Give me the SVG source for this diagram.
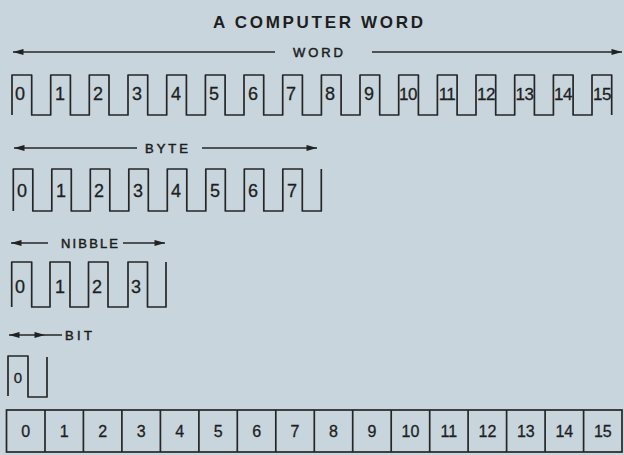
<svg xmlns="http://www.w3.org/2000/svg" width="624" height="455" viewBox="0 0 624 455">
<defs>
<marker id="ah" viewBox="0 0 12 8" refX="12" refY="4" markerWidth="12" markerHeight="7" markerUnits="userSpaceOnUse" orient="auto">
<path d="M0,0.5 L12,4 L0,7.5 Z" fill="#222"/>
</marker>
<style>
.bg{fill:#c8d5dd}
.w{fill:none;stroke:#262626;stroke-width:1.7;stroke-linejoin:round}
.ar{fill:none;stroke:#262626;stroke-width:1.5;marker-end:url(#ah)}
.ln{fill:none;stroke:#262626;stroke-width:1.5}
.t{font-family:"Liberation Sans",Arial,sans-serif;fill:#1e1e1e}
.title{font-size:17px;font-weight:bold}
.lab{font-size:13px;stroke:#1e1e1e;stroke-width:0.5}
.n{font-size:18px;text-anchor:middle;stroke:#1e1e1e;stroke-width:0.3}
.n2{font-size:17px;letter-spacing:-0.5px}
.r{font-size:16px;text-anchor:middle;stroke:#1e1e1e;stroke-width:0.3}
.cell{fill:none;stroke:#262626;stroke-width:1.7}
</style>
</defs>
<rect class="bg" x="0" y="0" width="624" height="455"/>

<g id="title">
<text class="t title" x="213" y="28" textLength="210" lengthAdjust="spacing">A COMPUTER WORD</text>
</g>

<g id="connectors">
<line class="ar" x1="275" y1="52" x2="13" y2="52"/>
<line class="ar" x1="372" y1="52" x2="622" y2="52"/>
<line class="ar" x1="137" y1="148" x2="14" y2="148"/>
<line class="ar" x1="202" y1="148" x2="317" y2="148"/>
<line class="ar" x1="48" y1="243" x2="11" y2="243"/>
<line class="ar" x1="123" y1="243" x2="165" y2="243"/>
<line class="ar" x1="27" y1="335" x2="9" y2="335"/>
<line class="ar" x1="27" y1="335" x2="45" y2="335"/>
<line class="ln" x1="45" y1="335" x2="62" y2="335"/>
</g>

<g id="word">
<text class="t lab" x="293" y="56.5" textLength="50" lengthAdjust="spacing">WORD</text>
<path class="w" d="M12,115 V75 H31.7 V115 H50.7 V75 H70.4 V115 H89.3 V75 H109 V115 H128 V75 H147.7 V115 H166.7 V75 H186.4 V115 H205.4 V75 H225.1 V115 H244 V75 H263.7 V115 H282.7 V75 H302.4 V115 H321.4 V75 H341.1 V115 H360 V75 H379.7 V115 H398.7 V75 H418.4 V115 H437.4 V75 H457.1 V115 H476 V75 H495.7 V115 H514.7 V75 H534.4 V115 H553.4 V75 H573.1 V115 H592 V75 H611.7 V115"/>
<g class="t n">
<text x="20" y="100">0</text>
<text x="60" y="100">1</text>
<text x="98" y="100">2</text>
<text x="137" y="100">3</text>
<text x="176" y="100">4</text>
<text x="214" y="100">5</text>
<text x="253" y="100">6</text>
<text x="291" y="100">7</text>
<text x="330" y="100">8</text>
<text x="369" y="100">9</text>
<text class="n2" x="408" y="100">10</text>
<text class="n2" x="447" y="100">11</text>
<text class="n2" x="486" y="100">12</text>
<text class="n2" x="524.5" y="100">13</text>
<text class="n2" x="563" y="100">14</text>
<text class="n2" x="602" y="100">15</text>
</g>
</g>

<g id="byte">
<text class="t lab" x="145" y="153" textLength="43" lengthAdjust="spacing">BYTE</text>
<path class="w" d="M13.3,211 V169 H32.8 V211 H51.8 V169 H71.3 V211 H90.3 V169 H109.8 V211 H128.8 V169 H148.3 V211 H167.3 V169 H186.8 V211 H205.8 V169 H225.3 V211 H244.3 V169 H263.8 V211 H282.8 V169 H302.3 V211 H321.3 V169"/>
<g class="t n">
<text x="22" y="197">0</text>
<text x="61" y="197">1</text>
<text x="99" y="197">2</text>
<text x="138" y="197">3</text>
<text x="176" y="197">4</text>
<text x="215" y="197">5</text>
<text x="253" y="197">6</text>
<text x="292" y="197">7</text>
</g>
</g>

<g id="nibble">
<text class="t lab" x="61" y="247.5" textLength="57" lengthAdjust="spacing">NIBBLE</text>
<path class="w" d="M11.7,307 V262 H31.7 V307 H50 V262 H70 V307 H88.5 V262 H108 V307 H128 V262 H147.5 V307 H166 V262"/>
<g class="t n">
<text x="20" y="293">0</text>
<text x="60" y="293">1</text>
<text x="97" y="293">2</text>
<text x="136" y="293">3</text>
</g>
</g>

<g id="bit">
<text class="t lab" x="65" y="340" textLength="27" lengthAdjust="spacing">BIT</text>
<path class="w" d="M8,396 V356 H28 V397 H47 V357"/>
<text class="t" x="18" y="383" font-size="15" text-anchor="middle" stroke="#1e1e1e" stroke-width="0.3">0</text>
</g>

<g id="register">
<rect class="cell" x="6.5" y="410" width="615.5" height="42"/>
<path class="cell" d="M45,410 V452 M83.4,410 V452 M121.9,410 V452 M160.4,410 V452 M198.9,410 V452 M237.3,410 V452 M275.8,410 V452 M314.3,410 V452 M352.7,410 V452 M391.2,410 V452 M429.7,410 V452 M468.1,410 V452 M506.6,410 V452 M545.1,410 V452 M583.6,410 V452"/>
<g class="t r">
<text x="25.7" y="437">0</text>
<text x="64.2" y="437">1</text>
<text x="102.7" y="437">2</text>
<text x="141.2" y="437">3</text>
<text x="179.6" y="437">4</text>
<text x="218.1" y="437">5</text>
<text x="256.6" y="437">6</text>
<text x="295" y="437">7</text>
<text x="333.5" y="437">8</text>
<text x="372" y="437">9</text>
<text x="410.4" y="437">10</text>
<text x="448.9" y="437">11</text>
<text x="487.4" y="437">12</text>
<text x="525.8" y="437">13</text>
<text x="564.3" y="437">14</text>
<text x="602.8" y="437">15</text>
</g>
</g>
</svg>
